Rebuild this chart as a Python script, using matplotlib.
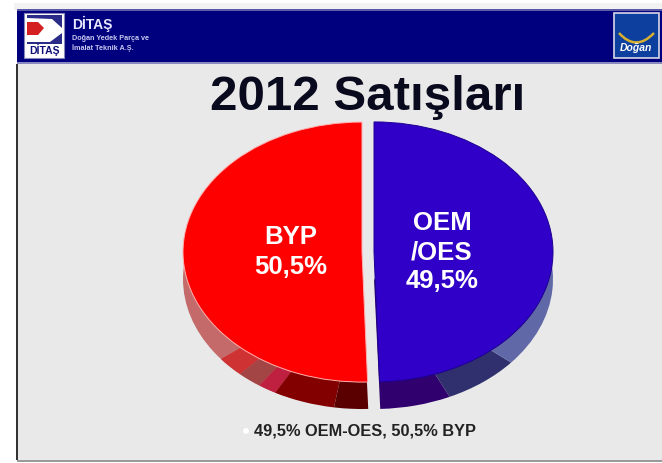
import matplotlib
matplotlib.use("Agg")
import matplotlib.pyplot as plt
from matplotlib.patches import Rectangle, Polygon, Ellipse, PathPatch
from matplotlib.path import Path

plt.rcParams['font.family'] = ['Liberation Sans', 'DejaVu Sans']

categories = ["BYP", "OEM"]
values = [50.5, 49.5]
slice_labels = ["BYP\n50,5%", "OEM\n/OES\n49,5%"]
title_text = "2012 Satışları"
caption_text = "49,5% OEM-OES, 50,5% BYP"
top_colors = ["#ff0000", "#3000c8"]

# side wall shading of the 3D pie: arcs in degrees (counter-clockwise) and colours
red_side_arcs = [68, 9, 8, 6, 20, 11]
red_side_colors = ["#c46a6a", "#cf3232", "#a34545", "#c02040", "#820000", "#5a0000"]
blue_side_arcs = [23, 25, 70]
blue_side_colors = ["#30006f", "#30306e", "#6068a8"]

W, H = 662, 463
fig = plt.figure(figsize=(W / 100, H / 100), dpi=100, facecolor="white")

# page furniture in pixel coordinates
bg = fig.add_axes([0, 0, 1, 1])
bg.set_xlim(0, W)
bg.set_ylim(H, 0)
bg.axis("off")
bg.add_patch(Rectangle((14, 3), W - 14, 7, fc="#f2f2f2", ec="none"))
bg.add_patch(Rectangle((17, 10), W - 17, 451, fc="#e9e9e9", ec="none"))
bg.add_patch(Rectangle((17, 9), W - 17, 55, fc="#00007e", ec="none"))
bg.add_patch(Rectangle((17, 9), W - 17, 2, fc="#5a5aa8", ec="none"))
bg.add_patch(Rectangle((17, 62), W - 17, 2, fc="#8a8ac0", ec="none"))
bg.add_patch(Rectangle((16, 64), 2, 396, fc="#333333", ec="none"))
bg.add_patch(Rectangle((17, 460), W - 17, 2, fc="#9a9a9a", ec="none"))

# DITAS logo
bg.add_patch(Rectangle((24, 13), 40, 45, fc="white", ec="#8888bb", lw=0.8))
bg.add_patch(Polygon([[27, 22], [38, 22], [44, 28], [38, 35], [27, 35]], fc="#d42020", ec="none"))
bg.add_patch(Polygon([[27, 15], [62, 15], [62, 28], [52, 19], [27, 18]], fc="#2a2a88", ec="none"))
bg.add_patch(Polygon([[27, 42], [50, 42], [62, 33], [62, 44], [27, 44]], fc="#2a2a88", ec="none"))
bg.text(44, 50.5, "DİTAŞ", fontsize=7.5, fontweight="bold", color="#10107a", ha="center", va="center")
bg.text(72, 24, "DİTAŞ", fontsize=10, fontweight="bold", color="#e8e8ff", va="center")
bg.text(72, 38.5, "Doğan Yedek Parça ve", fontsize=5.2, fontweight="bold", color="#c8c8f0", va="center")
bg.text(72, 48.5, "İmalat Teknik A.Ş.", fontsize=5.2, fontweight="bold", color="#c8c8f0", va="center")

# Dogan logo
bg.add_patch(Rectangle((614, 13), 45, 45, fc="#0d3f9e", ec="#d8d8e8", lw=1.2))
arc = Path([(619, 33), (636, 52), (654, 33)], [Path.MOVETO, Path.CURVE3, Path.CURVE3])
bg.add_patch(PathPatch(arc, fc="none", ec="#d8b030", lw=1.8))
bg.text(636.5, 48, "Doğan", fontsize=7.5, fontstyle="italic", fontweight="bold",
        color="white", ha="center", va="center")

# pie: axes whose unit circle is the tilted pie ellipse
cx, cy, rx, ry, depth, gap = 368, 252, 179, 130, 27, 6
pie_ax = fig.add_axes([0, 0, 1, 1], facecolor="none")
explode = [gap / rx, gap / rx]
drop = -depth / ry


def side(arcs, colors, start, shift):
    fracs = [a / 360 for a in arcs]
    pie_ax.pie(fracs, colors=colors, startangle=start, normalize=False, radius=1,
               center=(shift, drop), wedgeprops={"linewidth": 0}, frame=True)


side([30] + red_side_arcs[:1], red_side_colors[:1] * 2, 150, -gap / rx)
side(red_side_arcs[1:], red_side_colors[1:], 218, -gap / rx)
side(blue_side_arcs + [30], blue_side_colors + blue_side_colors[-1:], 272, gap / rx)

wedges, _ = pie_ax.pie(values, colors=top_colors, startangle=90, explode=explode,
                       radius=1, center=(0, 0), wedgeprops={"linewidth": 0}, frame=True)
wedges[0].set_edgecolor("#ffb0b0")
wedges[0].set_linewidth(0.7)
wedges[1].set_edgecolor("#1c0090")
wedges[1].set_linewidth(0.7)

pie_ax.set_aspect("auto")
pie_ax.set_xlim(-cx / rx, (W - cx) / rx)
pie_ax.set_ylim(-(H - cy) / ry, cy / ry)
pie_ax.set_xticks([])
pie_ax.set_yticks([])
pie_ax.set_frame_on(False)

# texts, on top
top = fig.add_axes([0, 0, 1, 1], facecolor="none")
top.set_xlim(0, W)
top.set_ylim(H, 0)
top.axis("off")
top.text(367.5, 97, title_text, fontsize=35.5, fontweight="bold", color="#0a0a1e",
         ha="center", va="center")
top.text(291, 252, slice_labels[0], fontsize=18.5, fontweight="bold", color="white",
         ha="center", va="center", linespacing=1.28)
top.text(442, 252, slice_labels[1], fontsize=18.5, fontweight="bold", color="white",
         ha="center", va="center", linespacing=1.28)
top.add_patch(Ellipse((246, 431), 6, 6, fc="white", ec="none"))
top.text(254, 431, caption_text, fontsize=11.8, fontweight="bold", color="#222222",
         ha="left", va="center")

fig.savefig("out.png", dpi=100, facecolor="white")
